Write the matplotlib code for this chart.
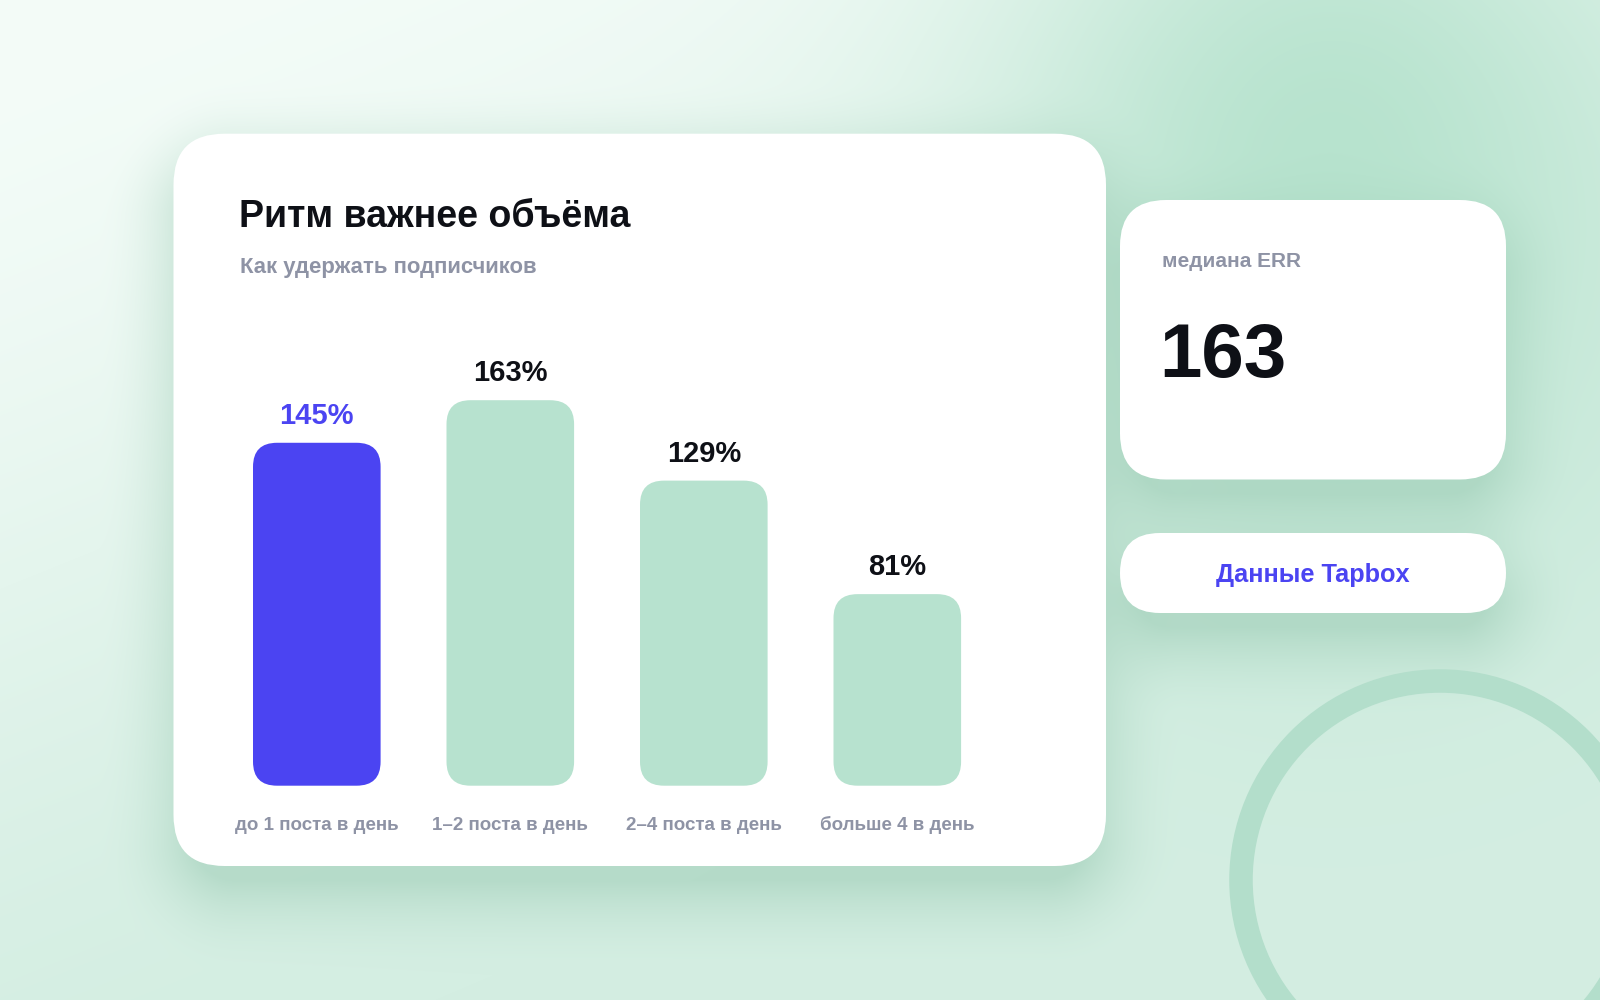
import numpy as np
import matplotlib
matplotlib.use("Agg")
import matplotlib.pyplot as plt
from matplotlib.patches import FancyBboxPatch, Circle

# ---------------- data ----------------
categories = ["до 1 поста в день", "1–2 поста в день", "2–4 поста в день", "больше 4 в день"]
values = [145, 163, 129, 81]
value_labels = ["145%", "163%", "129%", "81%"]
highlight = 0
title = "Ритм важнее объёма"
subtitle = "Как удержать подписчиков"
kpi_label = "медиана ERR"
kpi_value = "163"
source_label = "Данные Tapbox"

# ---------------- style ----------------
FONT = ["Liberation Sans", "DejaVu Sans"]
plt.rcParams["font.family"] = FONT
BLUE = "#4b44f2"
GREEN = "#b7e2cf"
DARK = "#0e1016"
GRAY = "#8e93a5"
RING = "#b3decb"

W, H = 1600, 1000
fig = plt.figure(figsize=(16, 10), dpi=100)
bg = fig.add_axes([0, 0, 1, 1])
bg.set_xlim(0, W)
bg.set_ylim(H, 0)
bg.axis("off")

# ---------------- background gradient + shadows ----------------
yy, xx = np.mgrid[0:H, 0:W].astype(float)
light = np.array([244, 252, 248]) / 255
mid = np.array([212, 238, 226]) / 255
deep = np.array([183, 227, 206]) / 255
t = np.clip((xx / W) * 0.55 + (yy / H) * 0.85, 0, 1)
t = t * t * (3 - 2 * t)
img = light[None, None, :] * (1 - t[..., None]) + mid[None, None, :] * t[..., None]
blob = np.exp(-(((xx - 1330) / 330) ** 2 + ((yy - 170) / 380) ** 2))
img = img * (1 - blob[..., None]) + deep[None, None, :] * blob[..., None]


def sdf_rr(X, Y, x0, y0, x1, y1, r):
    cx, cy = (x0 + x1) / 2, (y0 + y1) / 2
    bx, by = (x1 - x0) / 2, (y1 - y0) / 2
    qx = np.abs(X - cx) - bx + r
    qy = np.abs(Y - cy) - by + r
    return np.hypot(np.maximum(qx, 0), np.maximum(qy, 0)) + np.minimum(np.maximum(qx, qy), 0) - r


shadow_col = np.array([150, 200, 176]) / 255
cards = [
    (173.5, 133.7, 1106.0, 866.0, 51),
    (1120.0, 200.0, 1506.0, 479.5, 46),
    (1120.0, 533.0, 1506.0, 613.0, 40),
]
for (x0, y0, x1, y1, r) in cards:
    d = sdf_rr(xx, yy - 24, x0 + 10, y0 + 10, x1 - 10, y1 - 2, r)
    a = np.clip(1 - (d + 8) / 95, 0, 1) ** 2 * 0.5
    img = img * (1 - a[..., None]) + shadow_col[None, None, :] * a[..., None]

bg.imshow(img, extent=(0, W, H, 0), interpolation="bilinear", zorder=0, aspect="auto")

# decorative ring
bg.add_patch(Circle((1440, 880), 199, fill=False, lw=23.5 * 0.72, ec=RING, zorder=1))

# cards
for (x0, y0, x1, y1, r) in cards:
    bg.add_patch(FancyBboxPatch((x0 + r, y0 + r), (x1 - x0) - 2 * r, (y1 - y0) - 2 * r,
                                boxstyle=f"round,pad={r},rounding_size={r}",
                                fc="white", ec="none", zorder=2))

# texts on cards
bg.text(239, 227, title, fontsize=27, fontweight="bold", color=DARK, va="baseline", ha="left", zorder=3)
bg.text(240, 273, subtitle, fontsize=15.9, fontweight="bold", color=GRAY, va="baseline", ha="left", zorder=3)
bg.text(1162, 267.3, kpi_label, fontsize=15, fontweight="bold", color=GRAY, va="baseline", ha="left", zorder=3)
bg.text(1159, 377.3, kpi_value, fontsize=55, fontweight="bold", color=DARK, va="baseline", ha="left", zorder=3)
bg.text(1313, 581.7, source_label, fontsize=18.3, fontweight="bold", color=BLUE, va="baseline", ha="center", zorder=3)

# ---------------- bar chart axes ----------------
spacing = 193.5
c0 = 316.8
base_px = 785.7
px_per_unit = 2.365
ymax = 200
left_px = c0 - 0.5 * spacing
width_px = 4 * spacing
height_px = ymax * px_per_unit
ax = fig.add_axes([left_px / W, 1 - base_px / H, width_px / W, height_px / H])
ax.set_xlim(-0.5, 3.5)
ax.set_ylim(0, ymax)
ax.axis("off")
ax.patch.set_alpha(0)

xpos = np.arange(len(values))
bar_w = 127.6 / spacing
colors = [BLUE if i == highlight else GREEN for i in range(len(values))]
bars = ax.bar(xpos, values, width=bar_w, color=colors)

xupp = 4 / width_px
yupp = ymax / height_px
rad_px = 24
rx = rad_px * xupp
aspect = yupp / xupp
for b, c in zip(bars, colors):
    x, y, w, h = b.get_x(), b.get_y(), b.get_width(), b.get_height()
    b.set_visible(False)
    ry = rx * aspect
    p = FancyBboxPatch((x + rx, y + ry), w - 2 * rx, h - 2 * ry,
                       boxstyle=f"round,pad={rx},rounding_size={rx}",
                       mutation_aspect=aspect, fc=c, ec="none", zorder=3)
    ax.add_patch(p)

for i, (v, lab) in enumerate(zip(values, value_labels)):
    ax.annotate(lab, (i, v), xytext=(0, 13.7), textcoords="offset points",
                ha="center", va="baseline", fontsize=21, fontweight="bold",
                color=BLUE if i == highlight else DARK, zorder=4)
    ax.annotate(categories[i], (i, 0), xytext=(0, -31.9), textcoords="offset points",
                ha="center", va="baseline", fontsize=13.5, fontweight="bold", color=GRAY, zorder=4,
                annotation_clip=False)

fig.savefig("out.png", dpi=100)
